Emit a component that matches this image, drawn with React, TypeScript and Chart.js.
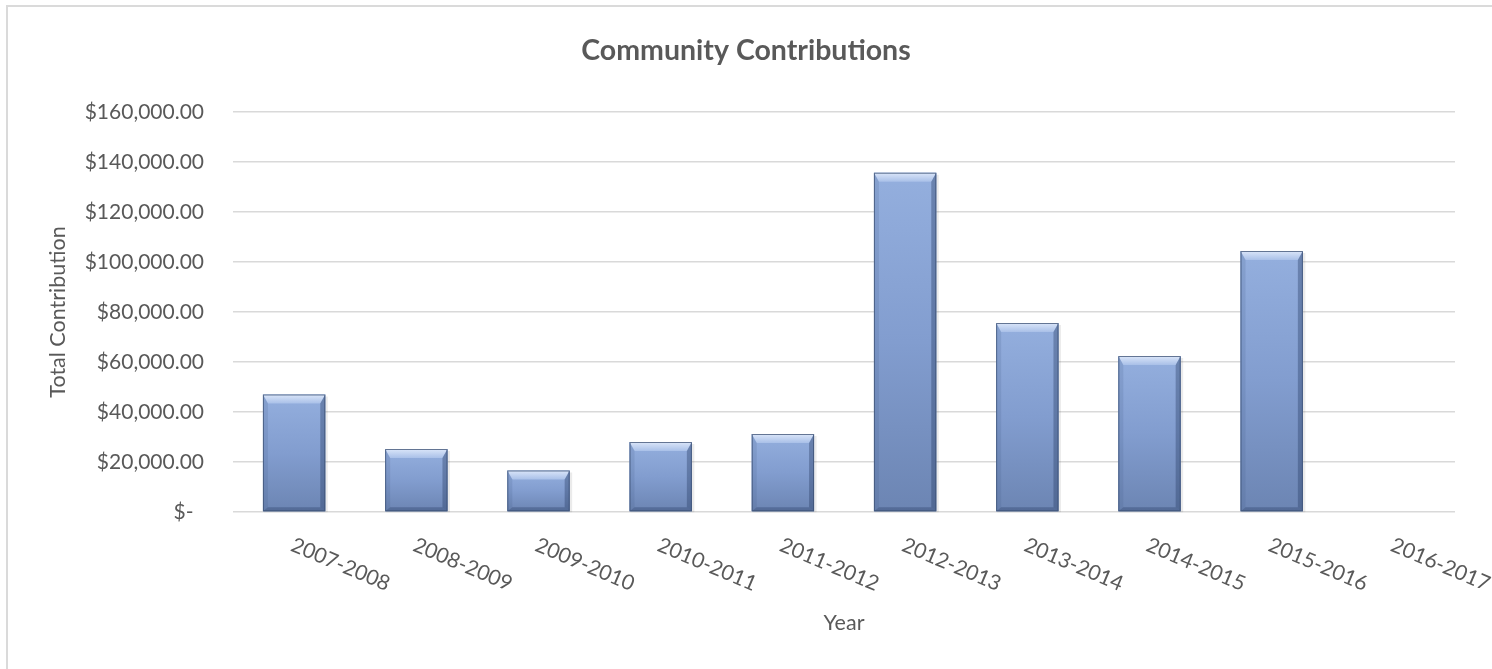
import React, { useEffect, useRef } from "react";
import { Chart, registerables } from "chart.js";

Chart.register(...registerables);

const chartTitle = "Community Contributions";
const xAxisTitle = "Year";
const yAxisTitle = "Total Contribution";
const categories = [
  "2007-2008",
  "2008-2009",
  "2009-2010",
  "2010-2011",
  "2011-2012",
  "2012-2013",
  "2013-2014",
  "2014-2015",
  "2015-2016",
  "2016-2017",
];
const contributions = [47000, 25200, 16600, 28000, 31200, 135700, 75600, 62400, 104400, 0];
const yMin = 0;
const yMax = 160000;
const yStep = 20000;

const TEXT = "#595959";
const FONT = "Lato, 'Open Sans', sans-serif";

function formatMoney(v: number): string {
  if (v === 0) return "$-\u2002";
  const s = v.toFixed(2);
  const [i, d] = s.split(".");
  return "$" + i.replace(/\B(?=(\d{3})+(?!\d))/g, ",") + "." + d;
}

const bevelPlugin = {
  id: "bevelBars",
  afterDatasetsDraw(chart: any) {
    const ctx = chart.ctx as CanvasRenderingContext2D;
    const meta = chart.getDatasetMeta(0);
    meta.data.forEach((el: any) => {
      const { x, y, base, width } = el.getProps(["x", "y", "base", "width"], true);
      const x0 = x - width / 2;
      const x1 = x + width / 2;
      const top = Math.min(y, base);
      const bot = Math.max(y, base);
      const h = bot - top;
      if (h < 1) return;
      const bt = Math.min(9, h / 2);
      const bs = Math.min(5, width / 2);
      const bb = Math.min(4, h / 2);
      ctx.save();
      // soft shadow
      ctx.fillStyle = "rgba(0,0,0,0.08)";
      ctx.fillRect(x0 + 1, top + 2, width + 1.5, h - 1);
      // body
      const g = ctx.createLinearGradient(0, top, 0, bot);
      g.addColorStop(0, "#94afde");
      g.addColorStop(0.5, "#829dcf");
      g.addColorStop(1, "#6c85b3");
      ctx.fillStyle = g;
      ctx.fillRect(x0, top, width, h);
      // top bevel
      const gt = ctx.createLinearGradient(0, top, 0, top + bt);
      gt.addColorStop(0, "#dbe6f9");
      gt.addColorStop(1, "#a9c0e8");
      ctx.fillStyle = gt;
      ctx.beginPath();
      ctx.moveTo(x0, top);
      ctx.lineTo(x1, top);
      ctx.lineTo(x1 - bs, top + bt);
      ctx.lineTo(x0 + bs, top + bt);
      ctx.closePath();
      ctx.fill();
      // left bevel
      ctx.fillStyle = "rgba(60,85,130,0.16)";
      ctx.beginPath();
      ctx.moveTo(x0, top);
      ctx.lineTo(x0 + bs, top + bt);
      ctx.lineTo(x0 + bs, bot - bb);
      ctx.lineTo(x0, bot);
      ctx.closePath();
      ctx.fill();
      // right bevel
      ctx.fillStyle = "rgba(40,60,100,0.38)";
      ctx.beginPath();
      ctx.moveTo(x1, top);
      ctx.lineTo(x1 - bs, top + bt);
      ctx.lineTo(x1 - bs, bot - bb);
      ctx.lineTo(x1, bot);
      ctx.closePath();
      ctx.fill();
      // bottom bevel
      ctx.fillStyle = "rgba(40,60,100,0.35)";
      ctx.beginPath();
      ctx.moveTo(x0, bot);
      ctx.lineTo(x0 + bs, bot - bb);
      ctx.lineTo(x1 - bs, bot - bb);
      ctx.lineTo(x1, bot);
      ctx.closePath();
      ctx.fill();
      // edge
      ctx.strokeStyle = "rgba(60,80,115,0.75)";
      ctx.lineWidth = 1;
      ctx.strokeRect(x0 + 0.5, top + 0.5, width - 1, h - 1);
      ctx.restore();
    });
  },
};

const rotatedLabelsPlugin = {
  id: "rotatedXLabels",
  afterDraw(chart: any) {
    const ctx = chart.ctx as CanvasRenderingContext2D;
    const xs = chart.scales.x;
    const angle = (23 * Math.PI) / 180;
    ctx.save();
    ctx.font = `21px ${FONT}`;
    ctx.fillStyle = TEXT;
    ctx.textAlign = "left";
    ctx.textBaseline = "middle";
    categories.forEach((label, i) => {
      const cx = xs.getPixelForTick(i);
      ctx.save();
      ctx.translate(cx - 2, xs.top + 32);
      ctx.rotate(angle);
      ctx.fillText(label, 0, 0);
      ctx.restore();
    });
    ctx.restore();
  },
};

export default function App() {
  const ref = useRef<HTMLCanvasElement | null>(null);

  useEffect(() => {
    if (!ref.current) return;
    const chart = new Chart(ref.current, {
      type: "bar",
      data: {
        labels: categories,
        datasets: [
          {
            label: "Total Contribution",
            data: contributions,
            backgroundColor: "#819cce",
            borderWidth: 0,
            categoryPercentage: 0.51,
            barPercentage: 1,
          },
        ],
      },
      plugins: [bevelPlugin, rotatedLabelsPlugin],
      options: {
        responsive: false,
        animation: false,
        maintainAspectRatio: false,
        layout: { padding: { left: 0, right: 0, top: 0, bottom: 0 } },
        plugins: {
          legend: { display: false },
          tooltip: { enabled: false },
          title: {
            display: true,
            text: chartTitle,
            color: TEXT,
            font: { family: FONT, size: 28.5, weight: "bold", lineHeight: 1.2 },
            padding: { top: 34, bottom: 43.8 },
          },
        },
        scales: {
          x: {
            grid: { display: false, drawTicks: false },
            border: { display: false },
            ticks: { display: false },
            title: {
              display: true,
              text: xAxisTitle,
              color: TEXT,
              font: { family: FONT, size: 21.5, lineHeight: 1.2 },
              padding: { top: 0, bottom: 33 },
            },
            afterFit(scale: any) {
              scale.height = 157;
            },
          },
          y: {
            min: yMin,
            max: yMax,
            grid: { color: "#d9d9d9", lineWidth: 1.5, drawTicks: false },
            border: { display: false },
            ticks: {
              stepSize: yStep,
              padding: 29,
              color: TEXT,
              font: { family: FONT, size: 21 },
              callback: (v: any) => formatMoney(Number(v)),
            },
            title: {
              display: true,
              text: yAxisTitle,
              color: TEXT,
              font: { family: FONT, size: 21.5, lineHeight: 1.2 },
              padding: { top: 45, bottom: 0 },
            },
            afterFit(scale: any) {
              scale.width = 233;
            },
          },
          yRight: {
            position: "right",
            display: true,
            grid: { display: false, drawTicks: false },
            border: { display: false },
            ticks: { display: false },
            afterFit(scale: any) {
              scale.width = 37;
            },
          },
        },
      } as any,
    });
    return () => chart.destroy();
  }, []);

  return (
    <div
      style={{
        position: "fixed",
        left: 0,
        top: 0,
        width: 1492,
        height: 669,
        overflow: "hidden",
        background: "#ffffff",
      }}
    >
      <div
        style={{
          position: "absolute",
          left: 6,
          top: 5,
          width: 1600,
          height: 800,
          border: "2px solid #dadada",
          boxSizing: "border-box",
        }}
      />
      <canvas
        ref={ref}
        width={1492}
        height={669}
        style={{ position: "absolute", left: 0, top: 0, width: 1492, height: 669 }}
      />
    </div>
  );
}
